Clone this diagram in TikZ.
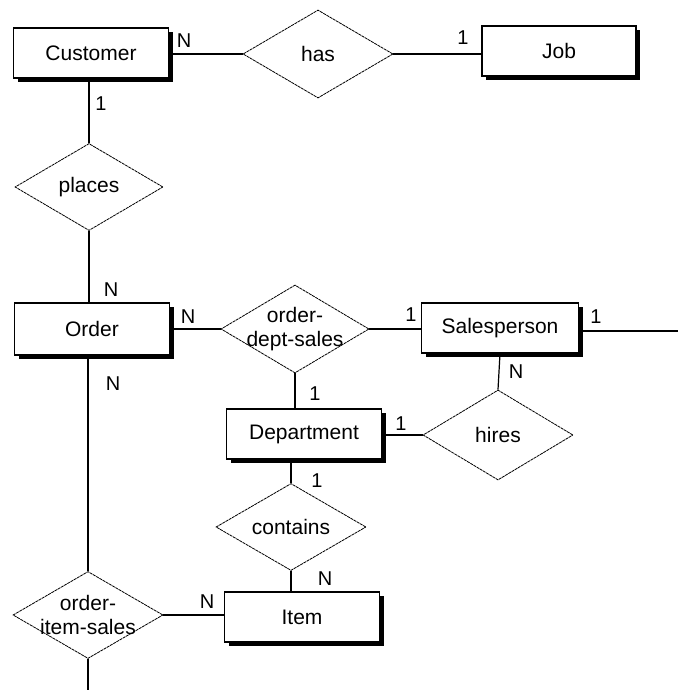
\documentclass[tikz,border=0pt]{standalone}
\usepackage{fontspec}
\setmainfont{Liberation Sans}
\usetikzlibrary{shapes.geometric,shadows}
\begin{document}
\begin{tikzpicture}[x=1pt,y=-1pt,
  entity/.style={draw, fill=white, line width=1.2pt, minimum width=155pt, minimum height=50pt, inner sep=0pt,
    font=\fontsize{21}{24}\selectfont,
    drop shadow={shadow xshift=4pt, shadow yshift=-4pt, fill=black, opacity=1}},
  rel/.style={draw, diamond, fill=white, line width=0.8pt, dash pattern=on 3pt off 0.7pt, inner sep=0pt,
    minimum width=150pt, minimum height=87pt},
  reltext/.style={font=\fontsize{21}{24}\selectfont, align=center, inner sep=0pt},
  card/.style={font=\fontsize{20}{22}\selectfont, inner sep=0pt},
  conn/.style={line width=1.2pt}]
\useasboundingbox (0,0) rectangle (678,690);
% entities
\node[entity] (Customer) at (91,53) {Customer};
\node[entity, minimum width=154pt] (Job) at (559,51) {Job};
\node[entity, minimum height=52pt] (Order) at (92,329) {Order};
\node[entity, minimum width=157pt] (Salesperson) at (500,328) {Salesperson};
\node[entity] (Department) at (304,434) {Department};
\node[entity] (Item) at (302,617) {Item};
% relationships
\node[rel, minimum height=88pt] (has) at (318,54) {};
\node[reltext] at (has) {has};
\node[rel, minimum width=148pt] (places) at (89,187) {};
\node[reltext] at (places) {places};
\node[rel, minimum width=148pt, minimum height=88pt] (ods) at (295,329) {};
\node[reltext] at (ods) {order-\\dept-sales};
\node[rel, minimum height=90pt] (hires) at (498,435) {};
\node[reltext] at (hires) {hires};
\node[rel] (contains) at (291,527) {};
\node[reltext] at (contains) {contains};
\node[rel] (ois) at (88,615) {};
\node[reltext] at (ois) {order-\\item-sales};
% free ends
\coordinate (sright) at (678,331);
\coordinate (obottom) at (ois.south |- 0,690);
% connectors
\draw[conn] (Customer.east |- has.west) -- (has.west);
\draw[conn] (has.east) -- (has.east -| Job.west);
\draw[conn] (places.north |- Customer.south) -- (places.north);
\draw[conn] (places.south) -- (places.south |- Order.north);
\draw[conn] (Order.east) -- (ods.west);
\draw[conn] (ods.east) -- (ods.east -| Salesperson.west);
\draw[conn] (Salesperson.east |- sright) -- (sright);
\draw[conn] (ods.south) -- (ods.south |- Department.north);
\draw[conn] (Salesperson.south) -- (hires.north);
\draw[conn] (Department.east |- hires.west) -- (hires.west);
\draw[conn] (contains.north |- Department.south) -- (contains.north);
\draw[conn] (contains.south) -- (contains.south |- Item.north);
\draw[conn] (ois.north |- Order.south) -- (ois.north);
\draw[conn] (ois.east) -- (ois.east -| Item.west);
\draw[conn] (ois.south) -- (obottom);
% cardinalities
\node[card] (c1) at (184,41) {N};
\node[card] (c2) at (101,104) {1};
\node[card] (c3) at (463,38) {1};
\node[card] (c4) at (111,290) {N};
\node[card] (c5) at (188,317) {N};
\node[card] (c6) at (113,384) {N};
\node[card] (c7) at (315,394) {1};
\node[card] (c8) at (411,315) {1};
\node[card] (c9) at (596,317) {1};
\node[card] (c10) at (516,372) {N};
\node[card] (c11) at (401,424) {1};
\node[card] (c12) at (317,481) {1};
\node[card] (c13) at (325,579) {N};
\node[card] (c14) at (207,602) {N};
\end{tikzpicture}
\end{document}
